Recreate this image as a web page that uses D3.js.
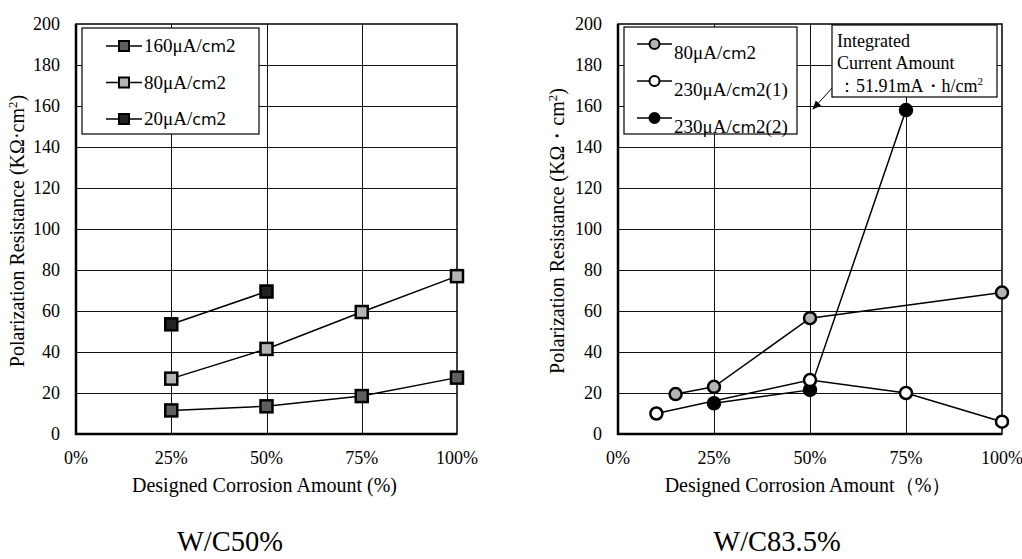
<!DOCTYPE html>
<html>
<head>
<meta charset="utf-8">
<script src="https://cdn.jsdelivr.net/npm/d3@7"></script>
<style>
    body { margin: 0; background: #fff; }
    svg { display: block; }
    text { font-family: "Liberation Serif", "Times New Roman", serif; fill: #000; }
    .cm { font-family: "DejaVu Sans", sans-serif; font-size: 16px; }
    .grid line { shape-rendering: crispEdges; }
</style>
</head>
<body>
<svg id="chart" width="1022" height="559"></svg>
<script>

// Shared axis values
var xTicks = [0, 25, 50, 75, 100];
var yTicks = [0, 20, 40, 60, 80, 100, 120, 140, 160, 180, 200];

// W/C50% data
var leftX160 = [25, 50, 75, 100];
var leftY160 = [11.5, 13.5, 18.5, 27.5];
var leftX80 = [25, 50, 75, 100];
var leftY80 = [27, 41.5, 59.5, 77];
var leftX20 = [25, 50];
var leftY20 = [53.5, 69.5];

// W/C83.5% data
var rightX80 = [15, 25, 50, 100];
var rightY80 = [19.5, 23, 56.5, 69];
var rightX230a = [10, 50, 75, 100];
var rightY230a = [10, 26.3, 20, 6];
var rightX230b = [25, 50, 75];
var rightY230b = [15, 21.5, 158];

var svg = d3.select("#chart");

function zip(xs, ys) {
    return xs.map(function(x, i) { return {x: x, y: ys[i]}; });
}

function drawPanel(cfg) {
    /*
    Draws one panel: grid, frame, axes, series, legend
    */
    var xScale = d3.scaleLinear().domain([0, 100]).range([cfg.left, cfg.right]);
    var yScale = d3.scaleLinear().domain([0, 200]).range([434, 24]);
    var g = svg.append("g");

    // Grid lines
    var grid = g.append("g").attr("class", "grid");
    grid.selectAll("line.h")
        .data(yTicks.slice(1, -1))
        .enter().append("line")
        .attr("x1", cfg.left).attr("x2", cfg.right)
        .attr("y1", d => Math.round(yScale(d)) + 0.5).attr("y2", d => Math.round(yScale(d)) + 0.5)
        .attr("stroke", "#111").attr("stroke-width", 1);
    grid.selectAll("line.v")
        .data(xTicks.slice(1, -1))
        .enter().append("line")
        .attr("x1", d => Math.round(xScale(d)) + 0.5).attr("x2", d => Math.round(xScale(d)) + 0.5)
        .attr("y1", yScale(0)).attr("y2", yScale(200))
        .attr("stroke", "#111").attr("stroke-width", 1);

    // Frame
    g.append("rect")
        .attr("x", cfg.left).attr("y", yScale(200))
        .attr("width", cfg.right - cfg.left).attr("height", yScale(0) - yScale(200))
        .attr("fill", "none").attr("stroke", "#000").attr("stroke-width", 1.5);
    g.append("path")
        .attr("d", `M${cfg.left},${yScale(200)}V${yScale(0)}H${cfg.right}`)
        .attr("fill", "none").attr("stroke", "#000").attr("stroke-width", 2.5);

    // Tick labels
    g.append("g").selectAll("text")
        .data(yTicks)
        .enter().append("text")
        .attr("x", cfg.left - 16)
        .attr("y", d => yScale(d) + 6)
        .attr("text-anchor", "end")
        .style("font-size", "18px")
        .text(d => d);
    g.append("g").selectAll("text")
        .data(xTicks)
        .enter().append("text")
        .attr("x", d => xScale(d))
        .attr("y", 464)
        .attr("text-anchor", "middle")
        .style("font-size", "18px")
        .text(d => d + "%");

    // Axis titles
    g.append("text")
        .attr("x", (cfg.left + cfg.right) / 2 - 2)
        .attr("y", 492)
        .attr("text-anchor", "middle")
        .style("font-size", "20px")
        .text(cfg.xTitle);
    var yt = g.append("text")
        .attr("transform", `translate(${cfg.yTitleX}, 231) rotate(-90)`)
        .attr("text-anchor", "middle")
        .style("font-size", "20px");
    yt.append("tspan").text(cfg.yTitle);
    yt.append("tspan").attr("dy", -7).style("font-size", "13px").text("2");
    yt.append("tspan").attr("dy", 7).text(")");

    // Panel caption
    g.append("text")
        .attr("x", cfg.captionX)
        .attr("y", 551)
        .attr("text-anchor", "middle")
        .style("font-size", "28.5px")
        .text(cfg.caption);

    // Series
    var line = d3.line().x(d => xScale(d.x)).y(d => yScale(d.y));
    cfg.series.forEach(function(s) {
        var pts = zip(s.xs, s.ys);
        g.append("path")
            .attr("d", line(pts))
            .attr("fill", "none").attr("stroke", "#000").attr("stroke-width", 1.5);
        var marks = g.append("g").selectAll("mark")
            .data(pts).enter();
        if (cfg.shape === "square") {
            marks.append("rect")
                .attr("x", d => xScale(d.x) - 6)
                .attr("y", d => yScale(d.y) - 6)
                .attr("width", 12).attr("height", 12)
                .attr("fill", s.fill).attr("stroke", "#000").attr("stroke-width", 2.5);
        } else {
            marks.append("circle")
                .attr("cx", d => xScale(d.x))
                .attr("cy", d => yScale(d.y))
                .attr("r", 6)
                .attr("fill", s.fill).attr("stroke", "#000").attr("stroke-width", 2.5);
        }
    });

    // Legend
    var lg = cfg.legend;
    g.append("rect")
        .attr("x", lg.x).attr("y", lg.y)
        .attr("width", lg.w).attr("height", lg.h)
        .attr("fill", "#fff").attr("stroke", "#000").attr("stroke-width", 1.2);
    lg.items.forEach(function(item, i) {
        var cy = lg.firstY + i * lg.step;
        g.append("line")
            .attr("x1", lg.lineX1).attr("x2", lg.lineX2)
            .attr("y1", cy).attr("y2", cy)
            .attr("stroke", "#000").attr("stroke-width", 1.5);
        var mx = (lg.lineX1 + lg.lineX2) / 2;
        if (cfg.shape === "square") {
            g.append("rect")
                .attr("x", mx - 5).attr("y", cy - 5)
                .attr("width", 10).attr("height", 10)
                .attr("fill", item.fill).attr("stroke", "#000").attr("stroke-width", 2);
        } else {
            g.append("circle")
                .attr("cx", mx).attr("cy", cy).attr("r", 5)
                .attr("fill", item.fill).attr("stroke", "#000").attr("stroke-width", 2);
        }
        var t = g.append("text")
            .attr("x", lg.lineX2 + 2)
            .attr("y", cy + lg.textDy)
            .style("font-size", "19px");
        t.append("tspan").text(item.pre);
        t.append("tspan").attr("class", "cm").text("cm");
        t.append("tspan").text(item.post);
    });

    return {xScale: xScale, yScale: yScale, g: g};
}

// W/C50% panel
drawPanel({
    left: 76, right: 457,
    xTitle: "Designed Corrosion Amount (%)",
    yTitle: "Polarization Resistance (KΩ·cm",
    yTitleX: 24,
    caption: "W/C50%", captionX: 230,
    shape: "square",
    series: [
        {xs: leftX160, ys: leftY160, fill: "#5f5f5f"},
        {xs: leftX80, ys: leftY80, fill: "#b4b4b4"},
        {xs: leftX20, ys: leftY20, fill: "#222"}
    ],
    legend: {
        x: 82, y: 28, w: 177, h: 106,
        lineX1: 106, lineX2: 142, firstY: 46, step: 36.5, textDy: 6,
        items: [
            {fill: "#5f5f5f", pre: "160μA/", post: "2"},
            {fill: "#b4b4b4", pre: "80μA/", post: "2"},
            {fill: "#222", pre: "20μA/", post: "2"}
        ]
    }
});

// W/C83.5% panel
var right = drawPanel({
    left: 618, right: 1002,
    xTitle: "Designed Corrosion Amount（%）",
    yTitle: "Polarization Resistance (KΩ・cm",
    yTitleX: 564,
    caption: "W/C83.5%", captionX: 777,
    shape: "circle",
    series: [
        {xs: rightX230b, ys: rightY230b, fill: "#000"},
        {xs: rightX230a, ys: rightY230a, fill: "#fff"},
        {xs: rightX80, ys: rightY80, fill: "#b4b4b4"}
    ],
    legend: {
        x: 624, y: 27, w: 173, h: 107,
        lineX1: 637, lineX2: 672, firstY: 44, step: 37, textDy: 15,
        items: [
            {fill: "#b4b4b4", pre: "80μA/", post: "2"},
            {fill: "#fff", pre: "230μA/", post: "2(1)"},
            {fill: "#000", pre: "230μA/", post: "2(2)"}
        ]
    }
});

// Annotation box with arrow
var ann = right.g;
svg.append("defs").append("marker")
    .attr("id", "arrow")
    .attr("viewBox", "0 0 10 10")
    .attr("refX", 9).attr("refY", 5)
    .attr("markerWidth", 9).attr("markerHeight", 9)
    .attr("orient", "auto")
    .append("path").attr("d", "M0,1L10,5L0,9Z").attr("fill", "#000");
ann.append("line")
    .attr("x1", 833).attr("y1", 87)
    .attr("x2", 813).attr("y2", 109)
    .attr("stroke", "#000").attr("stroke-width", 1)
    .attr("marker-end", "url(#arrow)");
ann.append("rect")
    .attr("x", 832).attr("y", 25).attr("width", 165).attr("height", 72)
    .attr("fill", "#fff").attr("stroke", "#000").attr("stroke-width", 1.2);
var annLines = ["Integrated", "Current Amount"];
annLines.forEach(function(s, i) {
    ann.append("text")
        .attr("x", 837).attr("y", 47 + i * 22)
        .style("font-size", "18px")
        .text(s);
});
var last = ann.append("text")
    .attr("x", 838).attr("y", 92)
    .style("font-size", "18px");
last.append("tspan").text("：51.91mA・h/cm");
last.append("tspan").attr("dy", -7).style("font-size", "11px").text("2");

</script>
</body>
</html>
